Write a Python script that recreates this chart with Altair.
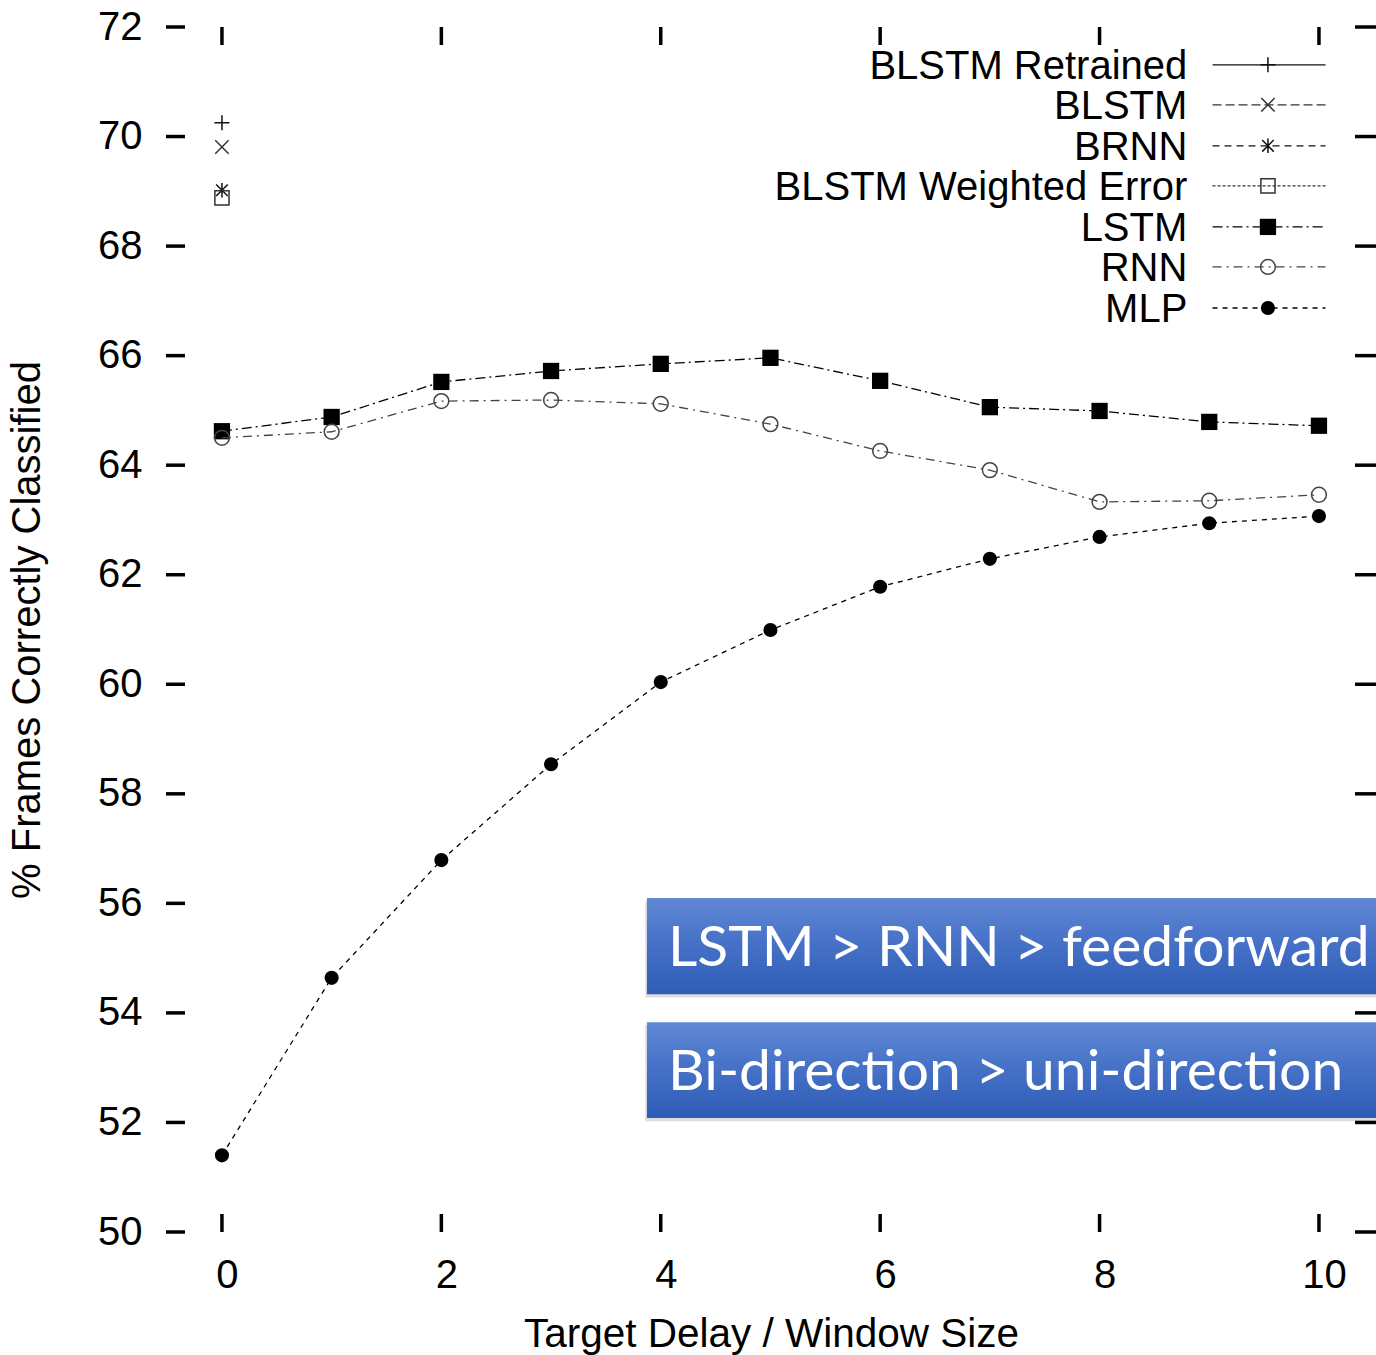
import altair as alt
import pandas as pd

# ---------------- data ----------------
delays = list(range(11))
lstm = [64.62, 64.88, 65.52, 65.72, 65.85, 65.96, 65.54, 65.06, 64.99, 64.79, 64.72]
rnn = [64.50, 64.61, 65.17, 65.19, 65.12, 64.75, 64.26, 63.91, 63.33, 63.35, 63.46]
mlp = [51.40, 54.64, 56.79, 58.54, 60.04, 60.99, 61.78, 62.29, 62.69, 62.94, 63.07]

bi_names = ["BLSTM Retrained", "BLSTM", "BRNN", "BLSTM Weighted Error"]
bi_values = [70.25, 69.81, 69.02, 68.88]
bi_delay = [0, 0, 0, 0]

legend_names = ["BLSTM Retrained", "BLSTM", "BRNN", "BLSTM Weighted Error", "LSTM", "RNN", "MLP"]
legend_rows = [71.31, 70.58, 69.83, 69.10, 68.35, 67.62, 66.87]
legend_text_x = 8.80
legend_line_x0 = 9.03
legend_line_x1 = 10.06
legend_marker_x = 9.535

y_ticks = list(range(50, 73, 2))
x_ticks = list(range(0, 11, 2))

notes = ["LSTM > RNN > feedforward", "Bi-direction > uni-direction"]
note_x0 = [3.874, 3.874]
note_x1 = [10.7, 10.7]
note_top = [56.10, 53.83]
note_bottom = [54.34, 52.08]
note_text_x = 4.066

# ---------------- styles ----------------
FONT = "Liberation Sans"
PLUS = "M-1,0L1,0M0,-1L0,1"
CROSS = "M-1,-1L1,1M-1,1L1,-1"
STAR = "M0,-1L0,1M-0.8,-0.8L0.8,0.8M-0.8,0.8L0.8,-0.8"

STYLE = {
    "BLSTM Retrained": dict(dash=None, shape=PLUS, filled=False, size=225, color="#111"),
    "BLSTM": dict(dash=[9, 4], shape=CROSS, filled=False, size=180, color="#333"),
    "BRNN": dict(dash=[7, 5], shape=STAR, filled=False, size=210, color="#111"),
    "BLSTM Weighted Error": dict(dash=[3, 2], shape="square", filled=False, size=200, color="#333"),
    "LSTM": dict(dash=[10, 4, 2, 4], shape="square", filled=True, size=265, color="black"),
    "RNN": dict(dash=[9, 5, 2, 5], shape="circle", filled=False, size=220, color="#444"),
    "MLP": dict(dash=[5, 5], shape="circle", filled=True, size=200, color="black"),
}

xs = alt.Scale(domain=[-0.51, 10.52], nice=False, zero=False)
ys = alt.Scale(domain=[50, 72], nice=False, zero=False)

xaxis = alt.Axis(values=x_ticks, ticks=False, tickSize=0, domain=False, grid=False,
                 labelFontSize=40, labelFont=FONT, labelColor="black", labelPadding=23,
                 labelOffset=5, format="d",
                 title="Target Delay / Window Size", titleFont=FONT, titleFontSize=40.5,
                 titleFontWeight="normal", titleColor="black", titleY=114,
                 titleBaseline="alphabetic")
yaxis = alt.Axis(values=y_ticks, ticks=False, tickSize=0, domain=False, grid=False,
                 labelFontSize=40, labelFont=FONT, labelColor="black", labelPadding=24,
                 format="d",
                 title="% Frames Correctly Classified", titleFont=FONT, titleFontSize=40,
                 titleFontWeight="normal", titleColor="black", titleAngle=270,
                 titleX=-127, titleY=602.5, titleBaseline="alphabetic", titleAlign="center")


def X(field):
    return alt.X(field + ":Q", scale=xs, axis=xaxis)


def Y(field):
    return alt.Y(field + ":Q", scale=ys, axis=yaxis)


layers = []

# tick marks (inward, gnuplot style)
df_yt = pd.DataFrame({"y": y_ticks})
df_xt = pd.DataFrame({"x": x_ticks})
layers.append(alt.Chart(df_yt).mark_rule(color="black", strokeWidth=3.5).encode(
    y=Y("y"), x=alt.value(0), x2=alt.value(19)))
layers.append(alt.Chart(df_yt).mark_rule(color="black", strokeWidth=3.5).encode(
    y=Y("y"), x=alt.value(1189), x2=alt.value(1210)))
layers.append(alt.Chart(df_xt).mark_rule(color="black", strokeWidth=3.5).encode(
    x=X("x"), y=alt.value(0), y2=alt.value(18)))
layers.append(alt.Chart(df_xt).mark_rule(color="black", strokeWidth=3.5).encode(
    x=X("x"), y=alt.value(1187), y2=alt.value(1205)))


def point_mark(name):
    st = STYLE[name]
    if st["filled"]:
        return dict(shape=st["shape"], size=st["size"], filled=True, color=st["color"], opacity=1)
    return dict(shape=st["shape"], size=st["size"], filled=False, color=st["color"],
                strokeWidth=1.5, opacity=1)


def line_mark(name):
    st = STYLE[name]
    kw = dict(color=st["color"], strokeWidth=1.3)
    if st["dash"]:
        kw["strokeDash"] = st["dash"]
    return kw


# series
for name, vals in [("LSTM", lstm), ("RNN", rnn), ("MLP", mlp)]:
    df = pd.DataFrame({"x": delays, "y": vals})
    layers.append(alt.Chart(df).mark_line(**line_mark(name)).encode(x=X("x"), y=Y("y")))
    layers.append(alt.Chart(df).mark_point(**point_mark(name)).encode(x=X("x"), y=Y("y")))

# single bidirectional points
for name, d, v in zip(bi_names, bi_delay, bi_values):
    df = pd.DataFrame({"x": [d], "y": [v]})
    layers.append(alt.Chart(df).mark_point(**point_mark(name)).encode(x=X("x"), y=Y("y")))

# legend
df_leg = pd.DataFrame({"name": legend_names, "y": legend_rows,
                       "tx": [legend_text_x] * 7, "lx0": [legend_line_x0] * 7,
                       "lx1": [legend_line_x1] * 7, "mx": [legend_marker_x] * 7})
layers.append(alt.Chart(df_leg).mark_text(align="right", baseline="middle", fontSize=40,
                                          font=FONT, color="black", dy=2).encode(
    x=X("tx"), y=Y("y"), text="name:N"))
for i, name in enumerate(legend_names):
    row = df_leg.iloc[[i]]
    layers.append(alt.Chart(row).mark_rule(**line_mark(name)).encode(
        x=X("lx0"), x2="lx1:Q", y=Y("y")))
    layers.append(alt.Chart(row).mark_point(**point_mark(name)).encode(x=X("mx"), y=Y("y")))

# annotation boxes
df_notes = pd.DataFrame({"note": notes, "x0": note_x0, "x1": note_x1,
                         "top": note_top, "bottom": note_bottom})
df_notes["mid"] = (df_notes["top"] + df_notes["bottom"]) / 2
df_notes["tx"] = note_text_x
df_notes["sx0"] = df_notes["x0"] - 0.015
df_notes["stop"] = df_notes["top"] - 0.05
df_notes["sbot"] = df_notes["bottom"] - 0.06

layers.append(alt.Chart(df_notes).mark_rect(color="#000000", opacity=0.13, clip=True).encode(
    x=X("sx0"), x2="x1:Q", y=Y("stop"), y2="sbot:Q"))
grad = alt.Gradient(gradient="linear",
                    stops=[alt.GradientStop(color="#6088d4", offset=0),
                           alt.GradientStop(color="#4470c6", offset=0.5),
                           alt.GradientStop(color="#2f5cb6", offset=1)],
                    x1=0, x2=0, y1=0, y2=1)
layers.append(alt.Chart(df_notes).mark_rect(color=grad, clip=True).encode(
    x=X("x0"), x2="x1:Q", y=Y("top"), y2="bottom:Q"))
layers.append(alt.Chart(df_notes).mark_text(font="Lato", fontSize=57, color="white",
                                            align="left", baseline="middle", dy=3).encode(
    x=X("tx"), y=Y("mid"), text="note:N"))

chart = alt.layer(*layers).properties(
    width=1210, height=1205,
    padding={"left": 166, "top": 27, "right": 0, "bottom": 123},
    autosize=alt.AutoSizeParams(type="none"),
    background="white",
).configure_view(stroke=None)

chart.save("out.html", embed_options={"renderer": "svg", "actions": False})
